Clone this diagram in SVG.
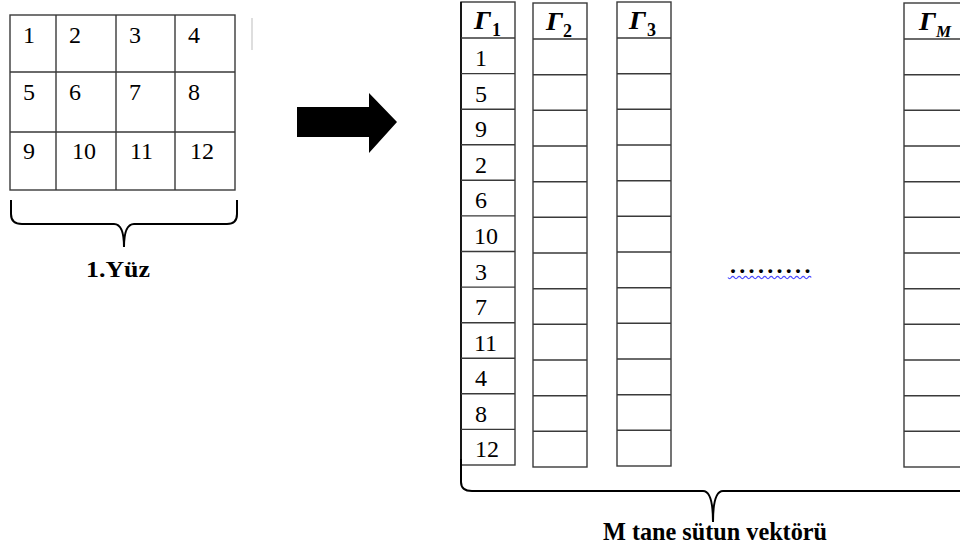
<svg xmlns="http://www.w3.org/2000/svg" width="960" height="551" viewBox="0 0 960 551">
<style>
.g{fill:#fff;stroke:#3a3a3a;stroke-width:1.4}
.ln{stroke:#3a3a3a;stroke-width:1.4;fill:none}
.n{font-family:"Liberation Serif","Times New Roman",serif;font-size:24px;fill:#000}
.h{font-family:"Liberation Serif","Times New Roman",serif;font-weight:bold;font-style:italic;font-size:25px;fill:#000}
.s{font-family:"Liberation Serif","Times New Roman",serif;font-weight:bold;font-size:18px;fill:#000}
.sm{font-family:"Liberation Serif","Times New Roman",serif;font-weight:bold;font-style:italic;font-size:17px;fill:#000}
.b{font-family:"Liberation Serif","Times New Roman",serif;font-weight:bold;fill:#000}
.br{fill:none;stroke:#000;stroke-width:2}
</style>
<rect width="960" height="551" fill="#fff"/>

<g id="face">
<rect class="g" x="10" y="15" width="225" height="175"/>
<path class="ln" d="M56,15V190M116,15V190M175,15V190M10,72H235M10,132H235"/>
<text class="n" x="23" y="43">1</text>
<text class="n" x="69" y="43">2</text>
<text class="n" x="129" y="43">3</text>
<text class="n" x="188" y="43">4</text>
<text class="n" x="23" y="100">5</text>
<text class="n" x="69" y="100">6</text>
<text class="n" x="129" y="100">7</text>
<text class="n" x="188" y="100">8</text>
<text class="n" x="23" y="159">9</text>
<text class="n" x="72" y="159">10</text>
<text class="n" x="130" y="159">11</text>
<text class="n" x="190" y="159">12</text>
</g>
<line x1="252" y1="18" x2="252" y2="50" stroke="#c8c8c8" stroke-width="1.2"/>

<g id="face-brace">
<path class="br" d="M11,200 V214 Q11,224 22,224 H114 Q124,224 124,247 Q124,224 134,224 H227 Q237,224 237,214 V200"/>
<text class="b" x="118" y="277" font-size="24" text-anchor="middle" textLength="64" lengthAdjust="spacingAndGlyphs">1.Yüz</text>
</g>

<g id="connectors">
<path d="M297,107 H369 V93 L397,122 L369,153 V137 H297 Z" fill="#000"/>
</g>

<g id="col1">
<rect class="g" x="461" y="2" width="54" height="463"/>
<path d="M461,2V465" stroke="#000" stroke-width="1.6"/>
<path class="ln" d="M461,38H515M461,73.6H515M461,109.2H515M461,144.7H515M461,180.3H515M461,215.9H515M461,251.5H515M461,287.1H515M461,322.7H515M461,358.2H515M461,393.8H515M461,429.4H515"/>
<text class="h" x="474" y="29" textLength="17" lengthAdjust="spacingAndGlyphs">Γ</text><text class="s" x="492" y="36">1</text>
<text class="n" x="475" y="66">1</text>
<text class="n" x="475" y="101.6">5</text>
<text class="n" x="475" y="137.2">9</text>
<text class="n" x="475" y="172.7">2</text>
<text class="n" x="475" y="208.3">6</text>
<text class="n" x="474" y="243.9">10</text>
<text class="n" x="475" y="279.5">3</text>
<text class="n" x="475" y="315.1">7</text>
<text class="n" x="474" y="350.7">11</text>
<text class="n" x="475" y="386.2">4</text>
<text class="n" x="475" y="421.8">8</text>
<text class="n" x="475" y="457.4">12</text>
</g>

<g id="col2">
<rect class="g" x="533" y="3" width="54" height="464"/>
<path class="ln" d="M533,39H587M533,74.7H587M533,110.3H587M533,146H587M533,181.7H587M533,217.3H587M533,253H587M533,288.7H587M533,324.3H587M533,360H587M533,395.7H587M533,431.3H587"/>
<text class="h" x="546" y="30" textLength="17" lengthAdjust="spacingAndGlyphs">Γ</text><text class="s" x="563" y="37">2</text>
</g>

<g id="col3">
<rect class="g" x="617" y="2" width="54" height="464"/>
<path class="ln" d="M617,38H671M617,73.7H671M617,109.3H671M617,145H671M617,180.7H671M617,216.3H671M617,252H671M617,287.7H671M617,323.3H671M617,359H671M617,394.7H671M617,430.3H671"/>
<text class="h" x="629" y="29" textLength="17" lengthAdjust="spacingAndGlyphs">Γ</text><text class="s" x="647" y="36">3</text>
</g>

<g id="colM">
<rect class="g" x="904" y="3" width="60" height="464"/>
<path class="ln" d="M904,39H964M904,74.7H964M904,110.3H964M904,146H964M904,181.7H964M904,217.3H964M904,253H964M904,288.7H964M904,324.3H964M904,360H964M904,395.7H964M904,431.3H964"/>
<text class="h" x="919" y="30" textLength="17" lengthAdjust="spacingAndGlyphs">Γ</text><text class="sm" x="936" y="37">M</text>
</g>

<g id="ellipsis">
<text class="b" x="730" y="273" font-size="24" letter-spacing="3.3">.........</text>
<path d="M728,277.5 q1.6,2.4 3.2,0 t3.2,0 t3.2,0 t3.2,0 t3.2,0 t3.2,0 t3.2,0 t3.2,0 t3.2,0 t3.2,0 t3.2,0 t3.2,0 t3.2,0 t3.2,0 t3.2,0 t3.2,0 t3.2,0 t3.2,0 t3.2,0 t3.2,0 t3.2,0 t3.2,0 t3.2,0 t3.2,0 t3.2,0 t3.2,0" fill="none" stroke="#4f4fff" stroke-width="1.3"/>
</g>

<g id="columns-brace">
<path class="br" d="M461,459 V482 Q461,491 472,491 H703 Q713,491 713,522 Q713,491 723,491 H962"/>
<text class="b" x="715" y="540" font-size="25" text-anchor="middle" textLength="224" lengthAdjust="spacingAndGlyphs">M tane sütun vektörü</text>
</g>
</svg>
